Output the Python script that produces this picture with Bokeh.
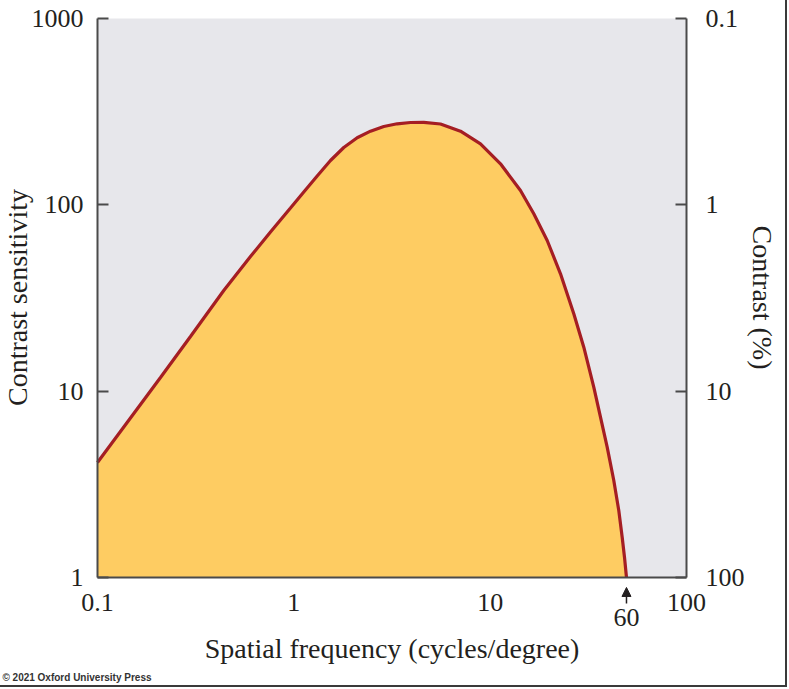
import math
from bokeh.plotting import figure
from bokeh.models import (Range1d, LogAxis, FixedTicker, CustomJSTickFormatter,
                          Arrow, NormalHead, Label, LogScale)
from bokeh.embed import file_html
from bokeh.resources import INLINE

# Contrast sensitivity function
freq = [0.1, 0.2094, 0.2977, 0.4398, 0.6016, 0.7606, 0.9617, 1.124, 1.3154,
        1.5375, 1.7969, 2.1024, 2.4582, 2.8727, 3.361, 3.9293, 4.592, 5.5851,
        7.0623, 8.9293, 11.29, 14.272, 16.684, 19.526, 22.822, 26.672, 29.996,
        33.72, 36.48, 39.46, 42.64, 45.21, 47.05, 48.34, 49.48]
sens = [4.142, 11.84, 19.65, 34.7, 52.81, 71.48, 96.17, 117.2, 142.8, 172.9,
        203.1, 229.0, 248.5, 263.3, 272.2, 276.6, 277.3, 271.6, 248.5, 212.6,
        166.0, 119.4, 89.5, 64.36, 42.64, 26.02, 17.22, 10.5, 7.25, 5.005,
        3.316, 2.288, 1.645, 1.285, 1.0]

x_ticks = [0.1, 1, 10, 100]
y_ticks = [1, 10, 100, 1000]
contrast_ticks = [0.1, 1, 10, 100]
cutoff_x = 49.48
cutoff_label = "60"
x_title = "Spatial frequency (cycles/degree)"
y_title = "Contrast sensitivity"
y2_title = "Contrast (%)"
copyright_text = "© 2021 Oxford University Press"

# view limits: the frame covers the whole canvas, the axes sit at the
# panel's edges (fixed locations) so nothing drawn outside the panel is cut
x_view = (0.03207, 327.0)
y_view = (0.2568, 1249.0)

# annotation anchors (data coordinates)
arrow_y = (0.725, 0.884)
label60_y = 0.61
ytitle_x, y2title_x, ytitle_y = 0.0391, 243.8, 31.8
copy_x, copy_y = 0.0328, 0.2905

SERIF = "Liberation Serif"
TXT = "#231f20"
SPINE = "#4a4a4a"

p = figure(width=787, height=687, x_axis_type="log", y_axis_type="log",
           x_range=Range1d(*x_view), y_range=Range1d(*y_view),
           output_backend="svg", toolbar_location=None, min_border=0)
p.title.visible = False
p.styles = {"border-right": "2px solid #3a3a3a",
            "border-bottom": "2px solid #3a3a3a"}
p.background_fill_color = "white"
p.border_fill_color = "white"
p.outline_line_color = None
p.grid.visible = False
p.extra_y_ranges = {"contrast": Range1d(100 / y_view[0], 100 / y_view[1])}
p.extra_y_scales = {"contrast": LogScale()}

fmt = "return tick.toString();"

# grey panel
p.quad(left=x_ticks[0], right=x_ticks[-1], bottom=y_ticks[0], top=y_ticks[-1],
       fill_color="#E7E7EB", line_color=None)

# area and curve
p.varea(x=freq, y1=[y_ticks[0]] * len(freq), y2=sens, fill_color="#FECC62")
p.line(freq, sens, line_color="#A51E23", line_width=3.2)


def style_ticks(ax):
    ax.minor_tick_line_color = None
    ax.axis_line_color = SPINE
    ax.axis_line_width = 2
    ax.major_label_text_font = SERIF
    ax.major_label_text_font_size = "26px"
    ax.major_label_text_color = TXT
    ax.axis_label_text_font = SERIF
    ax.axis_label_text_font_size = "28px"
    ax.axis_label_text_font_style = "normal"
    ax.axis_label_text_color = TXT


# x axis, at sensitivity = 1
xa = p.xaxis[0]
style_ticks(xa)
xa.fixed_location = y_ticks[0]
xa.bounds = (x_ticks[0], x_ticks[-1])
xa.ticker = FixedTicker(ticks=x_ticks)
xa.formatter = CustomJSTickFormatter(code=fmt)
xa.major_tick_line_color = None
xa.major_label_standoff = 11
xa.axis_label = x_title
xa.axis_label_standoff = 18

# left axis, at frequency = 0.1
ya = p.yaxis[0]
style_ticks(ya)
ya.fixed_location = x_ticks[0]
ya.bounds = (y_ticks[0], y_ticks[-1])
ya.ticker = FixedTicker(ticks=y_ticks)
ya.formatter = CustomJSTickFormatter(code=fmt)
ya.major_tick_in = 11
ya.major_tick_out = 0
ya.major_tick_line_color = SPINE
ya.major_tick_line_width = 2
ya.major_label_standoff = 14

# right axis: contrast (%), at frequency = 100
ra = LogAxis(y_range_name="contrast", ticker=FixedTicker(ticks=contrast_ticks),
             formatter=CustomJSTickFormatter(code=fmt),
             bounds=(contrast_ticks[0], contrast_ticks[-1]))
style_ticks(ra)
ra.fixed_location = x_ticks[-1]
ra.major_tick_in = 11
ra.major_tick_out = 0
ra.major_tick_line_color = SPINE
ra.major_tick_line_width = 2
ra.major_label_standoff = 19
p.add_layout(ra, "right")

# axis titles for the two vertical axes, centred on the panel
title_kw = dict(text_font=SERIF, text_font_size="28px", text_color=TXT,
                text_align="center", text_baseline="middle")
p.add_layout(Label(x=ytitle_x, y=ytitle_y, text=y_title, angle=math.pi / 2,
                   **title_kw))
p.add_layout(Label(x=y2title_x, y=ytitle_y, text=y2_title, angle=-math.pi / 2,
                   **title_kw))

# cutoff arrow and label
p.add_layout(Arrow(end=NormalHead(size=9, fill_color=TXT, line_color=TXT),
                   x_start=cutoff_x, y_start=arrow_y[0], x_end=cutoff_x,
                   y_end=arrow_y[1], line_color=TXT, line_width=1.5))
p.add_layout(Label(x=cutoff_x, y=label60_y, text=cutoff_label,
                   text_align="center", text_baseline="middle",
                   text_font=SERIF, text_font_size="26px", text_color=TXT))

# copyright
p.add_layout(Label(x=copy_x, y=copy_y, text=copyright_text,
                   text_align="left", text_baseline="middle",
                   text_font="Liberation Sans", text_font_size="10px",
                   text_font_style="bold", text_color="#333333"))

open("out.html", "w").write(file_html(p, INLINE))
